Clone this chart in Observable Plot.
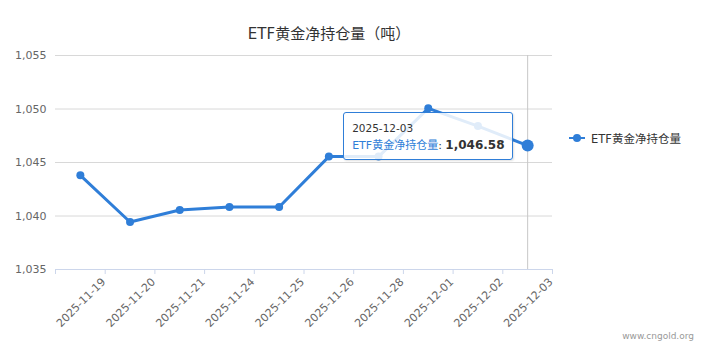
<!DOCTYPE html>
<html>
<head>
<meta charset="utf-8">
<script src="https://cdn.jsdelivr.net/npm/d3@7"></script>
<script src="https://cdn.jsdelivr.net/npm/@observablehq/plot@0.6"></script>
<style>
  html, body { margin: 0; padding: 0; background: #fff; }
  #wrap { position: relative; width: 702px; height: 358px; font-family: "DejaVu Sans", "Noto Sans CJK SC", sans-serif; overflow: hidden; }
  #title { position: absolute; left: 0; width: 658px; top: 22px; text-align: center; font-size: 15px; color: #333; }
  #legend { position: absolute; left: 568px; top: 130px; font-size: 11.5px; color: #333; display: flex; align-items: center; }
  #legend svg { margin-right: 5px; }
  #mark { position: absolute; right: 8px; top: 331px; font-size: 9px; color: #999; }
  #tip { position: absolute; background: rgba(255,255,255,0.85); border: 1px solid #2f7ed8; border-radius: 3px; box-sizing: border-box; padding: 8px 8px; font-size: 11px; color: #333; white-space: nowrap; box-shadow: 1px 1px 2px rgba(0,0,0,0.12); }
  #tip .d { font-size: 10.5px; line-height: 15px; }
  #tip .s { color: #2f7ed8; }
  #tip b { font-weight: bold; font-size: 12px; }
</style>
</head>
<body>
<div id="wrap">
  <div id="chart"></div>
  <div id="title"></div>
  <div id="legend"></div>
  <div id="mark"></div>
  <div id="tip"></div>
</div>
<script>
const titleText = "ETF黄金净持仓量（吨）";
const seriesName = "ETF黄金净持仓量";
const watermark = "www.cngold.org";
const dates = ["2025-11-19","2025-11-20","2025-11-21","2025-11-24","2025-11-25","2025-11-26","2025-11-28","2025-12-01","2025-12-02","2025-12-03"];
const values = [1043.8, 1039.44, 1040.56, 1040.84, 1040.84, 1045.55, 1045.55, 1050.06, 1048.4, 1046.58];
const yTicks = [1035, 1040, 1045, 1050, 1055];
const hoverIndex = 9;

const color = "#2f7ed8";
const data = dates.map((d, i) => ({i, date: d, value: values[i]}));
const edges = d3.range(dates.length + 1).map(k => k - 0.5);
const labelPos = dates.map((d, i) => ({x: i + 0.5, label: d}));
const yMin = yTicks[0], yMax = yTicks[yTicks.length - 1];

const chart = Plot.plot({
  width: 702,
  height: 358,
  marginLeft: 55,
  marginRight: 150,
  marginTop: 55,
  marginBottom: 89,
  style: {fontFamily: "DejaVu Sans, sans-serif", fontSize: "11px", color: "#666", background: "transparent"},
  x: {type: "linear", domain: [-0.5, dates.length - 0.5], axis: null},
  y: {domain: [yMin, yMax], axis: null},
  marks: [
    Plot.ruleY(yTicks.slice(1), {stroke: "#d8d8d8", strokeWidth: 1}),
    Plot.text(yTicks, {x: -0.5, y: d => d, text: d => d3.format(",")(d), textAnchor: "end", dx: -9, fill: "#666", fontSize: 11}),
    Plot.ruleX([hoverIndex], {y1: yMin, y2: yMax, stroke: "#c8c8c8", strokeWidth: 1}),
    Plot.ruleY([yMin], {stroke: "#ccd6eb", strokeWidth: 1}),
    Plot.ruleX(edges, {x: d => d, y1: yMin, y2: yMin, insetBottom: -5, stroke: "#ccd6eb", strokeWidth: 1}),
    Plot.text(labelPos, {x: "x", y: yMin, text: "label", rotate: -45, textAnchor: "end", lineAnchor: "bottom", dx: 1, dy: 13, fill: "#666", fontSize: 11}),
    Plot.line(data, {x: "i", y: "value", stroke: color, strokeWidth: 3, curve: "linear"}),
    Plot.dot(data.filter(d => d.i !== hoverIndex), {x: "i", y: "value", r: 4, fill: color, stroke: "none"}),
    Plot.dot(data.filter(d => d.i === hoverIndex), {x: "i", y: "value", r: 6, fill: color, stroke: "none"})
  ]
});
document.getElementById("chart").appendChild(chart);

document.getElementById("title").textContent = titleText;
document.getElementById("mark").textContent = watermark;

const leg = document.getElementById("legend");
leg.innerHTML = `<svg width="18" height="10"><line x1="1" y1="5" x2="17" y2="5" stroke="${color}" stroke-width="2"/><circle cx="9" cy="5" r="4" fill="${color}"/></svg><span></span>`;
leg.querySelector("span").textContent = seriesName;

const px = chart.scale("x").apply(hoverIndex);
const py = chart.scale("y").apply(values[hoverIndex]);
const tip = document.getElementById("tip");
const dEl = document.createElement("div"); dEl.className = "d"; dEl.textContent = dates[hoverIndex];
const vEl = document.createElement("div");
const sEl = document.createElement("span"); sEl.className = "s"; sEl.textContent = seriesName;
const bEl = document.createElement("b"); bEl.textContent = d3.format(",.2f")(values[hoverIndex]);
vEl.appendChild(sEl); vEl.appendChild(document.createTextNode(": ")); vEl.appendChild(bEl);
tip.appendChild(dEl); tip.appendChild(vEl);
tip.style.width = "170px";
tip.style.height = "48px";
tip.style.left = (px - 14 - 170) + "px";
tip.style.top = (py - 33) + "px";
</script>
</body>
</html>
